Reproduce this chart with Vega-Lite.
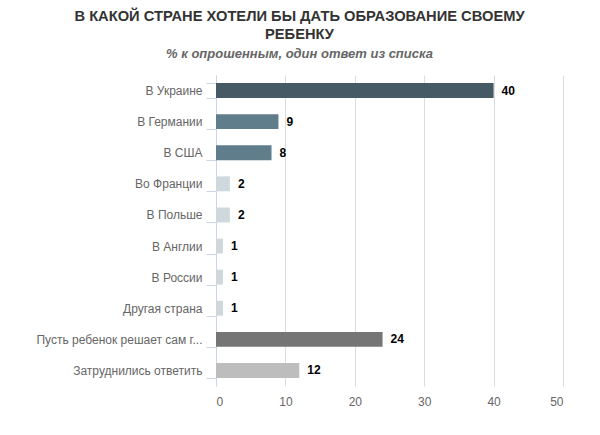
{
  "$schema": "https://vega.github.io/schema/vega-lite/v6.json",
  "width": 347,
  "height": 311,
  "padding": {"left": 35, "top": 9, "right": 5, "bottom": 5},
  "background": "white",
  "config": {"view": {"stroke": null}, "font": "Liberation Sans"},
  "title": {
    "text": ["В КАКОЙ СТРАНЕ ХОТЕЛИ БЫ ДАТЬ ОБРАЗОВАНИЕ СВОЕМУ", "РЕБЕНКУ"],
    "subtitle": "% к опрошенным, один ответ из списка",
    "anchor": "middle",
    "frame": "bounds",
    "font": "Liberation Sans",
    "fontSize": 14.7,
    "fontWeight": "bold",
    "color": "#333333",
    "lineHeight": 18,
    "subtitleFont": "Liberation Sans",
    "subtitleFontSize": 13,
    "subtitleFontStyle": "italic",
    "subtitleFontWeight": "bold",
    "subtitleColor": "#666666",
    "subtitlePadding": 6,
    "offset": 8
  },
  "data": {
    "values": [
      {"answer": "В Украине", "value": 40},
      {"answer": "В Германии", "value": 9},
      {"answer": "В США", "value": 8},
      {"answer": "Во Франции", "value": 2},
      {"answer": "В Польше", "value": 2},
      {"answer": "В Англии", "value": 1},
      {"answer": "В России", "value": 1},
      {"answer": "Другая страна", "value": 1},
      {"answer": "Пусть ребенок решает сам г...", "value": 24},
      {"answer": "Затруднились ответить", "value": 12}
    ]
  },
  "encoding": {
    "y": {
      "field": "answer",
      "type": "nominal",
      "sort": null,
      "title": null,
      "scale": {"paddingInner": 0.52, "paddingOuter": 0.26},
      "axis": {
        "domainColor": "#ccd6eb",
        "tickColor": "#ccd6eb",
        "tickSize": 10,
        "tickBand": "extent",
        "labelPadding": 4,
        "labelFontSize": 12,
        "labelColor": "#666666",
        "labelFont": "Liberation Sans",
        "labelLimit": 250,
        "grid": false
      }
    },
    "x": {
      "field": "value",
      "type": "quantitative",
      "title": null,
      "scale": {"domain": [0, 50], "nice": false},
      "axis": {
        "values": [0, 10, 20, 30, 40, 50],
        "domain": false,
        "ticks": false,
        "grid": true,
        "gridColor": "#dcdcdc",
        "labelFontSize": 12,
        "labelColor": "#666666",
        "labelFont": "Liberation Sans",
        "labelPadding": 10
      }
    }
  },
  "layer": [
    {
      "mark": {"type": "bar"},
      "encoding": {
        "color": {
          "field": "answer",
          "type": "nominal",
          "legend": null,
          "scale": {
            "domain": ["В Украине", "В Германии", "В США", "Во Франции", "В Польше", "В Англии", "В России", "Другая страна", "Пусть ребенок решает сам г...", "Затруднились ответить"],
            "range": ["#455a64", "#607d8b", "#607d8b", "#cfd8dc", "#cfd8dc", "#cfd8dc", "#cfd8dc", "#cfd8dc", "#757575", "#bdbdbd"]
          }
        }
      }
    },
    {
      "mark": {"type": "text", "align": "left", "baseline": "middle", "dx": 8, "fontWeight": "bold", "fontSize": 12, "color": "#000000", "font": "Liberation Sans"},
      "encoding": {"text": {"field": "value", "type": "quantitative"}}
    }
  ]
}
